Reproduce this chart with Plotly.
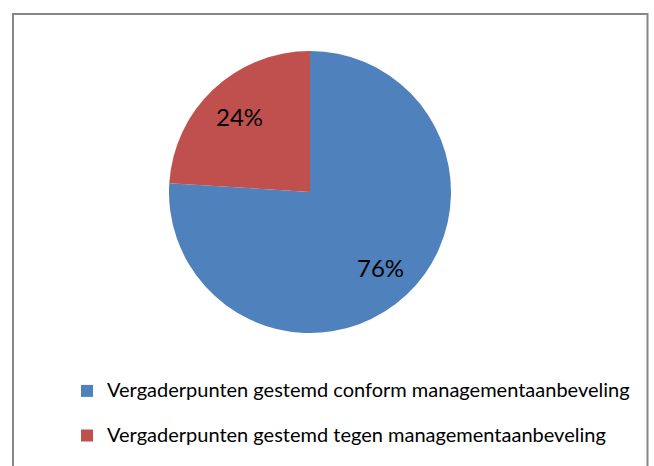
import math
import plotly.graph_objects as go

labels = ["Vergaderpunten gestemd conform managementaanbeveling",
          "Vergaderpunten gestemd tegen managementaanbeveling"]
values = [76, 24]
colors = ["#4F81BD", "#C0504D"]

W, H = 654, 466
cx, cy, r = 310, 192, 141
label_r = 0.73

# legend entries: larger visible text, extra blank line on all but the last entry for row spacing
legend_labels = ["<span style='font-size:20px'>" + l + "</span>" + ("<br> " if i < len(labels) - 1 else "")
                 for i, l in enumerate(labels)]

fig = go.Figure(go.Pie(
    labels=legend_labels,
    values=values,
    sort=False,
    direction="clockwise",
    rotation=0,
    marker=dict(colors=colors, line=dict(width=0)),
    textinfo="none",
    domain=dict(x=[(cx - r) / W, (cx + r) / W], y=[1 - (cy + r) / H, 1 - (cy - r) / H]),
    hovertemplate="%{percent:.0%}<extra></extra>",
))

# percentage labels placed along each slice's mid-angle, computed from the values
total = sum(values)
cum = 0
annotations = []
for v in values:
    mid = (cum + v / 2) / total * 2 * math.pi
    cum += v
    px = cx + label_r * r * math.sin(mid)
    py = cy - label_r * r * math.cos(mid)
    annotations.append(dict(
        x=px / W, y=1 - py / H, xref="paper", yref="paper",
        text=f"{round(100 * v / total)}%", showarrow=False,
        font=dict(family="Lato", size=24, color="black"),
        xanchor="center", yanchor="middle",
    ))

fig.update_layout(
    width=W, height=H,
    margin=dict(l=0, r=0, t=0, b=0, autoexpand=False),
    paper_bgcolor="white",
    plot_bgcolor="white",
    showlegend=True,
    legend=dict(
        x=67 / W, y=1 - 374 / H, xanchor="left", yanchor="top",
        font=dict(family="Lato", size=16, color="black"),
        valign="top",
        bgcolor="rgba(0,0,0,0)",
    ),
    annotations=annotations,
    shapes=[dict(type="rect", xref="paper", yref="paper",
                 x0=13 / W, x1=647.5 / W, y0=-0.05, y1=1 - 14 / H,
                 line=dict(color="#878787", width=2), fillcolor="rgba(0,0,0,0)")],
)

fig.write_html("out.html", config={"displayModeBar": False},
               post_script="document.body.style.margin='0';document.body.style.overflow='hidden';")
